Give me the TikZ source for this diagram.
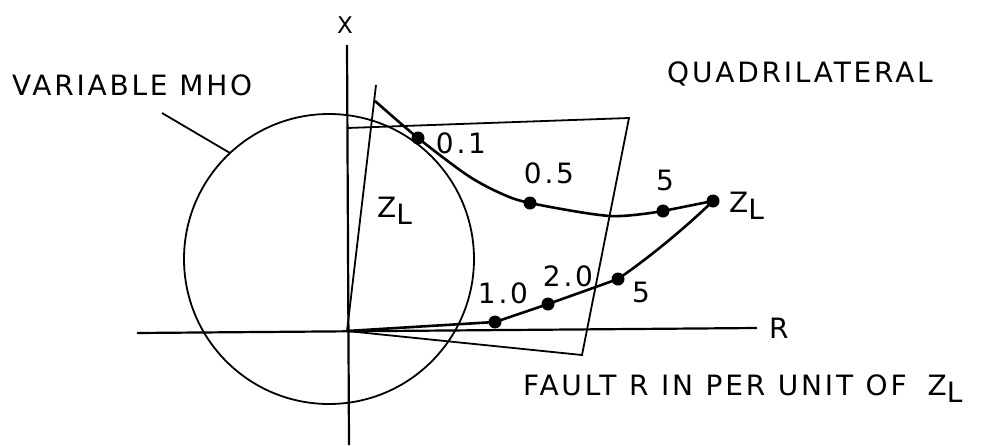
\documentclass[tikz,border=0pt]{standalone}
\usepackage{fontspec}
\setmainfont{DejaVu Sans}[LetterSpace=10]
\usetikzlibrary{positioning}
\newcommand{\zsub}{Z\raisebox{-0.5ex}{L}}

\begin{document}
\begin{tikzpicture}[x=1pt,y=-1pt,
  axis/.style={line width=2.2pt},
  outline/.style={line width=1.8pt},
  locus/.style={line width=2.6pt},
  dot/.style={circle,fill,inner sep=0pt,minimum size=13pt},
  lab/.style={font=\fontsize{28}{30}\selectfont,inner sep=0pt}]
  \useasboundingbox (0,0) rectangle (989,445);
  % axes
  \coordinate (o) at (347,331);
  \coordinate (xtop) at (347,45);
  \coordinate (xbot) at (349,445);
  \coordinate (rleft) at (137,333);
  \coordinate (rright) at (757,328);
  \draw[axis] (xtop) -- (xbot);
  \draw[axis] (rleft) -- (rright);
  \node[lab,font=\fontsize{23}{25}\selectfont] (xlab) at (345,25) {X};
  \node[lab,anchor=west] (rlab) at (769,328) {R};
  % mho and quadrilateral
  \draw[outline] (329,259) circle[radius=145];
  \coordinate (q1) at (347,128);
  \coordinate (q2) at (629,118);
  \coordinate (q3) at (582,355);
  \draw[outline] (q1) -- (q2) -- (q3) -- (o);
  \coordinate (zltip) at (376,85);
  \draw[outline] (o) -- (zltip);
  \coordinate (mhotail) at (162,113);
  \coordinate (mhotip) at (230,153);
  \draw[outline] (mhotail) -- (mhotip);
  % loci
  \node[dot] (zl) at (713,201) {};
  \foreach \n/\px/\py in {d01/418/138, d05/530/203, d5a/663/211,
                           d10/495/322, d20/548/304, d5b/618/279}
    \node[dot] (\n) at (\px,\py) {};
  \coordinate (top) at (375,101);
  \draw[locus] plot[smooth,tension=0.5] coordinates {(top) (d01.center) (467,175)
      (500,193) (d05.center) (610,216) (d5a.center)} -- (zl.center);
  \draw[locus] (o) -- (d10.center);
  \draw[locus] plot[smooth,tension=0.5] coordinates {(d10.center) (d20.center)
      (d5b.center)} .. controls (650,257) and (685,228) .. (zl.center);
  % labels
  \node[lab] (l01) at (461,143) {0.1};
  \node[lab] (l05) at (549,173) {0.5};
  \node[lab] (l5a) at (665,180) {5};
  \node[lab] (l10) at (503,293) {1.0};
  \node[lab] (l20) at (568,276) {2.0};
  \node[lab] (l5b) at (641,292) {5};
  \node[lab,anchor=base west] (zlr) at (729,212) {\zsub};
  \node[lab,anchor=base west] (zll) at (377,217) {\zsub};
  \node[lab,anchor=base west] (mho) at (12,95) {VARIABLE MHO};
  \node[lab,anchor=base west] (quad) at (667,82) {QUADRILATERAL};
  \node[lab,anchor=base west] (fault) at (523,395)
    {\spaceskip=0.45em FAULT R IN PER UNIT OF\hspace{0.75em}\zsub};
\end{tikzpicture}
\end{document}
